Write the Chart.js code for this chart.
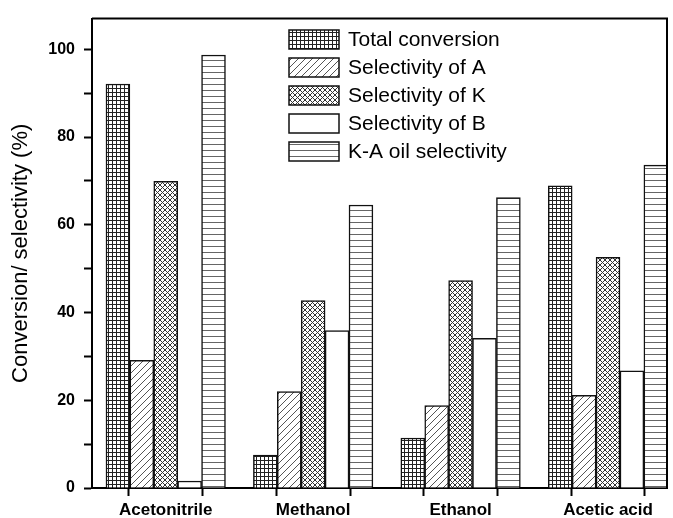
<!DOCTYPE html>
<html>
<head>
<meta charset="utf-8">
<script src="https://cdn.jsdelivr.net/npm/chart.js@4.4.1/dist/chart.umd.min.js"></script>
<style>
  html, body { margin: 0; padding: 0; background: #fff; }
  #wrap { width: 673px; height: 518px; }
</style>
</head>
<body>
<div id="wrap"><canvas id="c" width="673" height="518"></canvas></div>
<script>
// data
const categories = ['Acetonitrile', 'Methanol', 'Ethanol', 'Acetic acid'];
const seriesNames = ['Total conversion', 'Selectivity of A', 'Selectivity of K', 'Selectivity of B', 'K-A oil selectivity'];
const totalConversion = [92.1, 7.5, 11.4, 68.9];
const selectivityA = [29.1, 22.0, 18.8, 21.1];
const selectivityK = [69.9, 42.7, 47.3, 52.6];
const selectivityB = [1.6, 35.9, 34.1, 26.7];
const kaOilSelectivity = [98.7, 64.5, 66.2, 73.6];
const yLabelStep = 20;

const FONT = "'Liberation Sans', Arial, sans-serif";

// small canvas tiles used as fill patterns
function makePattern(kind) {
    const tile = document.createElement('canvas');
    const t = tile.getContext('2d');
    let w = 4, h = 4;
    if (kind === 'hatch') { w = 7; h = 7; }
    if (kind === 'cross') { w = 5; h = 5; }
    if (kind === 'hlines') { w = 4; h = 6; }
    tile.width = w;
    tile.height = h;
    t.fillStyle = '#fff';
    t.fillRect(0, 0, w, h);
    t.lineWidth = 1;
    switch (kind) {
        case 'grid':
            t.fillStyle = '#222';
            t.fillRect(0, 0, w, 1);
            t.fillRect(0, 0, 1, h);
            break;
        case 'hatch':
            t.strokeStyle = '#555';
            t.beginPath();
            t.moveTo(-1, h + 1); t.lineTo(w + 1, -1);
            t.moveTo(-2, 1); t.lineTo(1, -2);
            t.moveTo(w - 1, h + 2); t.lineTo(w + 2, h - 1);
            t.stroke();
            break;
        case 'cross':
            t.strokeStyle = '#333';
            t.beginPath();
            t.moveTo(0, 0); t.lineTo(w, h);
            t.moveTo(w, 0); t.lineTo(0, h);
            t.stroke();
            break;
        case 'hlines':
            t.fillStyle = '#666';
            t.fillRect(0, 0, w, 1);
            break;
    }
    return t.createPattern(tile, 'repeat');
}

const fills = [makePattern('grid'), makePattern('hatch'), makePattern('cross'), '#fff', makePattern('hlines')];
const seriesValues = [totalConversion, selectivityA, selectivityK, selectivityB, kaOilSelectivity];

const datasets = seriesValues.map((vals, i) => ({
    label: seriesNames[i],
    data: vals.map((v, j) => ({ x: j + 1, y: v })),
    backgroundColor: fills[i],
    borderColor: '#111',
    borderWidth: 1.5,
    borderSkipped: 'bottom',
    barThickness: 23.9
}));

// top and right lines of the frame
const framePlugin = {
    id: 'frame',
    afterDraw(chart) {
        const { ctx, chartArea: a } = chart;
        ctx.save();
        ctx.strokeStyle = '#000';
        ctx.lineWidth = 2;
        ctx.beginPath();
        ctx.moveTo(a.left, a.top);
        ctx.lineTo(a.right, a.top);
        ctx.lineTo(a.right, a.bottom);
        ctx.stroke();
        ctx.restore();
    }
};

// legend drawn as a vertical list inside the plot
const legendPlugin = {
    id: 'boxLegend',
    afterDraw(chart) {
        const ctx = chart.ctx;
        ctx.save();
        ctx.font = '21px ' + FONT;
        ctx.textBaseline = 'middle';
        chart.data.datasets.forEach((ds, i) => {
            const x = 289, y = 30 + i * 28;
            ctx.fillStyle = ds.backgroundColor;
            ctx.fillRect(x, y, 50, 19);
            ctx.strokeStyle = '#111';
            ctx.lineWidth = 1.5;
            ctx.strokeRect(x, y, 50, 19);
            ctx.fillStyle = '#000';
            ctx.fillText(ds.label, 348, y + 10);
        });
        ctx.restore();
    }
};

new Chart(document.getElementById('c'), {
    type: 'bar',
    data: { datasets: datasets },
    options: {
        responsive: false,
        animation: false,
        devicePixelRatio: 1,
        layout: { padding: { top: 12, right: 6, left: 0, bottom: 0 } },
        plugins: {
            legend: { display: false },
            tooltip: { enabled: false }
        },
        scales: {
            x: {
                type: 'linear',
                min: 0.5,
                max: 4.4,
                offset: false,
                grid: {
                    drawOnChartArea: false,
                    drawTicks: true,
                    tickLength: 8,
                    tickWidth: 2,
                    tickColor: '#000'
                },
                border: { color: '#000', width: 2 },
                ticks: {
                    stepSize: 0.5,
                    includeBounds: false,
                    autoSkip: false,
                    maxRotation: 0,
                    padding: 4,
                    color: '#000',
                    font: { family: FONT, size: 17, weight: 'bold' },
                    callback: function(value) {
                        const r = Math.round(value);
                        if (Math.abs(value - r) < 1e-6) return categories[r - 1] || '';
                        return '';
                    }
                },
                afterFit: s => { s.height = 30; }
            },
            y: {
                min: 0,
                max: 107,
                grid: {
                    drawOnChartArea: false,
                    drawTicks: true,
                    tickLength: 8,
                    tickWidth: 2,
                    tickColor: '#000'
                },
                border: { color: '#000', width: 2 },
                ticks: {
                    stepSize: 10,
                    includeBounds: false,
                    padding: 9,
                    color: '#000',
                    font: { family: FONT, size: 16, weight: 'bold' },
                    callback: v => (v % yLabelStep === 0 ? v : '')
                },
                title: {
                    display: true,
                    text: 'Conversion/ selectivity (%)',
                    color: '#000',
                    font: { family: FONT, size: 22 },
                    padding: { top: 8, bottom: 0 }
                },
                afterFit: s => { s.width = 92; }
            }
        }
    },
    plugins: [framePlugin, legendPlugin]
});
</script>
</body>
</html>
